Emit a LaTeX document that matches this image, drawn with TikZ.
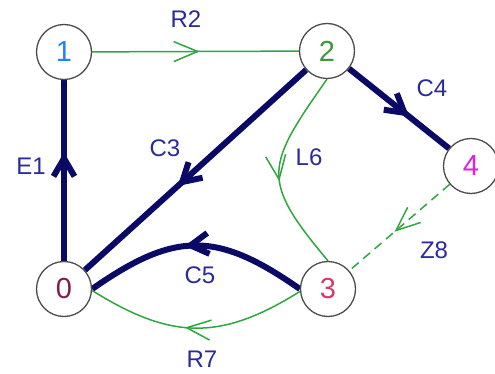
\documentclass[tikz,border=0pt]{standalone}
\usepackage{fontspec}
\setmainfont{Liberation Sans}
\usetikzlibrary{arrows.meta,decorations.markings}
\pgfdeclarelayer{bg}
\pgfsetlayers{bg,main}
\definecolor{navy}{HTML}{0A0A66}
\definecolor{grn}{HTML}{2EA83E}
\definecolor{lbl}{HTML}{2A2A9C}
\definecolor{cone}{HTML}{1E84FF}
\definecolor{ctwo}{HTML}{3A9A3A}
\definecolor{cfour}{HTML}{E020E0}
\definecolor{czero}{HTML}{7F1F4F}
\definecolor{cthree}{HTML}{D63A6A}
\tikzset{
  vert/.style={circle, draw=black!70, line width=1.3pt, fill=white, minimum size=55pt, inner sep=0pt, font=\fontsize{29}{29}\selectfont},
  thickedge/.style={draw=navy, line width=6pt},
  thinedge/.style={draw=grn, line width=1.5pt},
  thickarr/.style={postaction={decorate}, decoration={markings, mark=at position #1 with {\arrow{Straight Barb[length=18pt,width=21pt]}}}},
  thinarr/.style={postaction={decorate}, decoration={markings, mark=at position #1 with {\arrow{Straight Barb[length=24pt,width=20pt]}}}},
  elabel/.style={text=lbl, inner sep=0pt, font=\fontsize{24}{24}\selectfont}
}
\begin{document}
\begin{tikzpicture}[x=1pt,y=1pt]
\useasboundingbox (0,0) rectangle (495,-374);
\node[vert, text=cone] (n1) at (64,-52) {1};
\node[vert, text=ctwo] (n2) at (327,-51) {2};
\node[vert, text=cfour] (n4) at (471,-166) {4};
\node[vert, text=czero] (n0) at (64,-289) {0};
\node[vert, text=cthree] (n3) at (328,-289) {3};
\begin{pgfonlayer}{bg}
\draw[thickedge, thickarr=0.6] (n0) -- (n1);
\draw[thinedge, thinarr=0.52] (n1) -- (n2);
\draw[thickedge, thickarr=0.58] (n2) -- (n0);
\draw[thickedge, thickarr=0.6] (n2) -- (n4);
\draw[thinedge, thinarr=0.55] (n2.south) to[out=-125, in=130, looseness=1.5] (n3.north);
\draw[thickedge, thickarr=0.55] (n3.west) to[out=145, in=35, looseness=1.25] (n0.east);
\draw[thinedge, thinarr=0.55] (n3.185) to[out=-148, in=-32, looseness=1.15] (n0.-3);
\draw[thinedge, dash pattern=on 9pt off 6pt, thinarr=0.55] (n4) -- (n3);
\end{pgfonlayer}
\node[elabel] (lE1) at (31,-166) {E1};
\node[elabel] (lR2) at (186,-19) {R2};
\node[elabel] (lC3) at (165,-148) {C3};
\node[elabel] (lC4) at (432,-88) {C4};
\node[elabel] (lL6) at (309,-157) {L6};
\node[elabel] (lC5) at (200,-275) {C5};
\node[elabel] (lR7) at (202,-359) {R7};
\node[elabel] (lZ8) at (434,-250) {Z8};
\end{tikzpicture}
\end{document}
